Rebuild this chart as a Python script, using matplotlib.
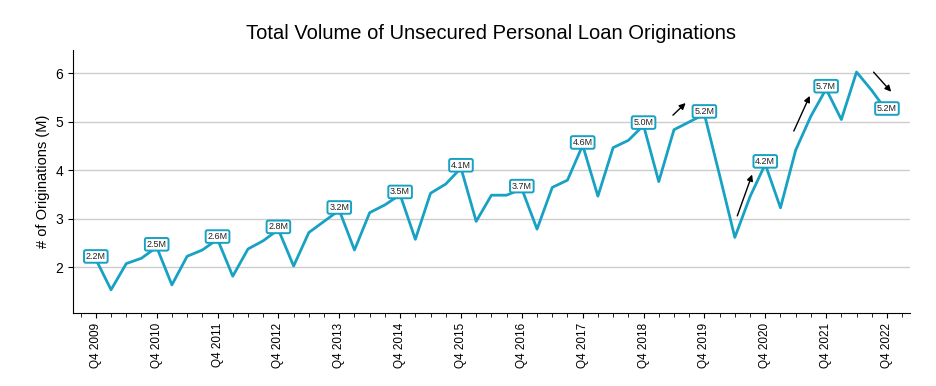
import matplotlib
matplotlib.use("Agg")
import matplotlib.pyplot as plt
from matplotlib.ticker import MultipleLocator

plt.rcParams['font.family'] = ['Liberation Sans', 'DejaVu Sans']

# quarterly originations (millions), Q4 2009 .. Q4 2022
volume = [2.17,
          1.54, 2.08, 2.19, 2.42,
          1.64, 2.23, 2.36, 2.58,
          1.82, 2.38, 2.55, 2.78,
          2.03, 2.72, 2.95, 3.18,
          2.36, 3.13, 3.29, 3.50,
          2.58, 3.53, 3.72, 4.05,
          2.95, 3.49, 3.49, 3.62,
          2.79, 3.65, 3.80, 4.52,
          3.47, 4.47, 4.62, 4.93,
          3.77, 4.84, 5.00, 5.16,
          3.90, 2.62, 3.46, 4.13,
          3.23, 4.42, 5.12, 5.68,
          5.05, 6.03, 5.65, 5.22]
years = list(range(2009, 2023))
tick_labels = ["Q4 %d" % y for y in years]
point_labels = ["2.2M", "2.5M", "2.6M", "2.8M", "3.2M", "3.5M", "4.1M",
                "3.7M", "4.6M", "5.0M", "5.2M", "4.2M", "5.7M", "5.2M"]
# arrows: (x_from, y_from, x_to, y_to) in quarter index / millions
arrows = [(37.8, 5.10, 38.9, 5.43),
          (42.1, 3.01, 43.2, 3.97),
          (45.8, 4.76, 47.0, 5.59),
          (51.0, 6.07, 52.4, 5.58)]

color = "#17a2c4"
x = list(range(len(volume)))
q4_idx = x[::4]

fig = plt.figure(figsize=(9.36, 3.86), dpi=100)
ax = fig.add_axes([0.078, 0.189, 0.894, 0.681])

ax.plot(x, volume, color=color, lw=2, zorder=3)

for i, lab in zip(q4_idx, point_labels):
    ax.annotate(lab, (i, volume[i]), xytext=(0, 2), textcoords="offset points",
                ha="center", va="center", fontsize=6.5, color="#222222", zorder=5,
                bbox=dict(boxstyle="round,pad=0.2", fc="white", ec=color, lw=1.4))

for x0, y0, x1, y1 in arrows:
    ax.annotate("", xy=(x1, y1), xytext=(x0, y0),
                arrowprops=dict(arrowstyle="-|>", color="black", lw=1, mutation_scale=9))

ax.set_xlim(-1.5, 53.5)
ax.set_ylim(1.06, 6.48)
ax.set_xticks(q4_idx)
ax.set_xticklabels(tick_labels, rotation=90, fontsize=8.5)
ax.xaxis.set_minor_locator(MultipleLocator(1))
ax.set_yticks([2, 3, 4, 5, 6])
ax.tick_params(axis="y", labelsize=10)
ax.tick_params(axis="x", which="minor", length=3)
ax.yaxis.grid(True, color="#cccccc", lw=1)
ax.set_axisbelow(True)
for s in ["top", "right"]:
    ax.spines[s].set_visible(False)

ax.set_ylabel("# of Originations (M)", fontsize=10.5)
ax.set_title("Total Volume of Unsecured Personal Loan Originations", fontsize=14.5, pad=8)

fig.savefig("out.png", dpi=100)
